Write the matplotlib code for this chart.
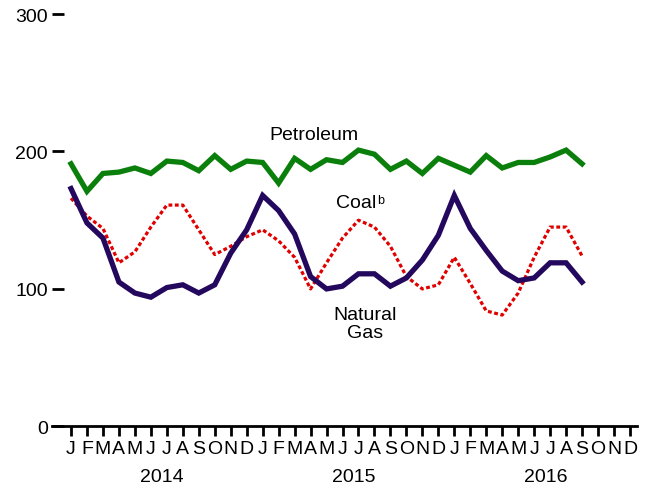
import numpy as np
import matplotlib
matplotlib.use('Agg')
import matplotlib.pyplot as plt

plt.rcParams['font.family'] = ['Liberation Sans', 'DejaVu Sans']

# ------------------------------------------------------------------
# Donnees (index mensuel, janv. 2014 -> sept. 2016)
months = ['J', 'F', 'M', 'A', 'M', 'J', 'J', 'A', 'S', 'O', 'N', 'D'] * 3
years = ['2014', '2015', '2016']

petroleum = [191, 171, 184, 185, 188, 184, 193, 192, 186, 197, 187, 193,
             192, 177, 195, 187, 194, 192, 201, 198, 187, 193, 184, 195,
             190, 185, 197, 188, 192, 192, 196, 201, 191]
natural_gas = [173, 148, 137, 105, 97, 94, 101, 103, 97, 103, 126, 143,
               168, 157, 140, 109, 100, 102, 111, 111, 102, 108, 121, 139,
               168, 144, 128, 113, 106, 108, 119, 119, 105]
coal = [166, 153, 144, 119, 127, 145, 161, 161, 143, 125, 131, 138,
        143, 135, 123, 100, 119, 137, 150, 145, 131, 109, 100, 103,
        123, 104, 84, 81, 97, 123, 145, 145, 124]

t = np.arange(len(petroleum))

# ------------------------------------------------------------------
fig = plt.figure(figsize=(6.5, 4.89), dpi=100)
ax = fig.add_axes([0.08, 0.126, 0.9, 0.8433])

ax.plot(t, coal, color='#e00000', lw=2.3, linestyle=(0, (1.2, 0.8)))
ax.plot(t, petroleum, color='#0b7f0b', lw=3.8, solid_joinstyle='miter')
ax.plot(t, natural_gas, color='#23085e', lw=3.8, solid_joinstyle='miter')

ax.text(15.2, 212, 'Petroleum', fontsize=14, ha='center', va='center')
coal_txt = ax.text(16.6, 163, 'Coal', fontsize=14, ha='left', va='center')
ax.annotate('b', xy=(1, 1), xycoords=coal_txt, xytext=(0.5, 0),
            textcoords='offset points', fontsize=9, ha='left', va='top')
ax.text(18.4, 75, 'Natural\nGas', fontsize=14, ha='center', va='center',
        linespacing=1.1)

ax.set_xlim(-1.19, 35.44)
ax.set_ylim(0, 300)

for s in ['top', 'right', 'left']:
    ax.spines[s].set_visible(False)
ax.spines['bottom'].set_linewidth(2)

ax.set_yticks([0, 100, 200, 300])
ax.tick_params(axis='y', direction='in', length=8.5, width=2, labelsize=14, pad=3)
ax.set_xticks(np.arange(36))
ax.set_xticklabels(months)
ax.tick_params(axis='x', length=7, width=2, labelsize=14, pad=3)

for i, y in enumerate(years):
    ax.text(5.7 + 12 * i, -0.122, y, transform=ax.get_xaxis_transform(),
            fontsize=14, ha='center', va='center')

plt.savefig('out.png', dpi=100)
